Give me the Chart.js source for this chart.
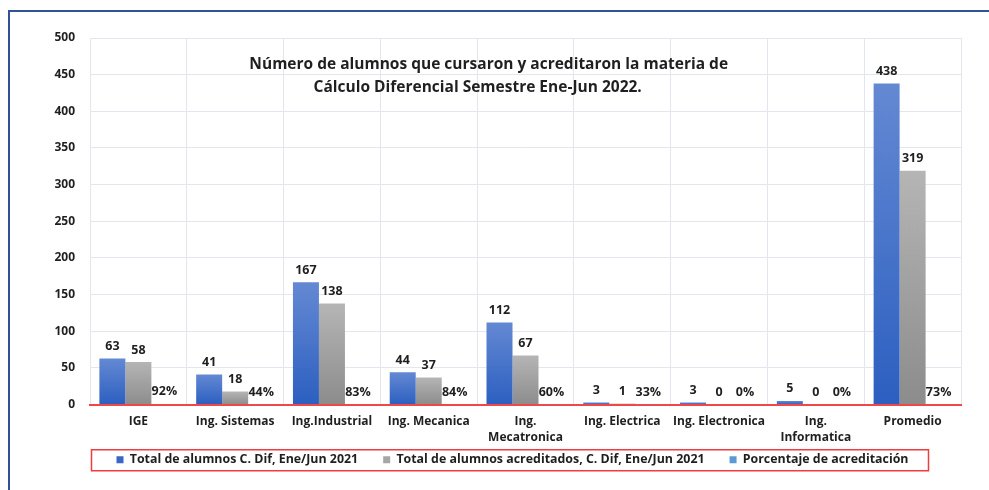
<!DOCTYPE html>
<html>
<head>
<meta charset="utf-8">
<script src="https://cdn.jsdelivr.net/npm/chart.js@4/dist/chart.umd.min.js"></script>
<style>
  html, body { margin: 0; padding: 0; background: #ffffff; }
  #wrap { position: relative; width: 989px; height: 490px; overflow: hidden; }
  #frame { position: absolute; left: 8px; top: 10px; right: -10px; bottom: -10px;
           border-left: 2px solid #2F5496; border-top: 2px solid #2F5496; pointer-events: none; }
  canvas { position: absolute; left: 0; top: 0; }
</style>
</head>
<body>
<div id="wrap">
  <canvas id="c" width="989" height="490"></canvas>
  <div id="frame"></div>
</div>
<script>
// ---- data ----
const categories = ["IGE", "Ing. Sistemas", "Ing.Industrial", "Ing. Mecanica", ["Ing.", "Mecatronica"],
                    "Ing. Electrica", "Ing. Electronica", ["Ing.", "Informatica"], "Promedio"];
const totalAlumnos = [63, 41, 167, 44, 112, 3, 3, 5, 438];
const totalAcreditados = [58, 18, 138, 37, 67, 1, 0, 0, 319];
const porcentaje = [0.92, 0.44, 0.83, 0.84, 0.60, 0.33, 0, 0, 0.73];
const seriesNames = ["Total de alumnos C. Dif, Ene/Jun 2021",
                     "Total de alumnos acreditados, C. Dif, Ene/Jun 2021",
                     "Porcentaje de acreditación"];
const yTicks = [0, 50, 100, 150, 200, 250, 300, 350, 400, 450, 500];
const titleLines = ["Número de alumnos que cursaron y acreditaron la materia de",
                    "Cálculo Diferencial Semestre Ene-Jun 2022."];

// ---- styles ----
const FONT = "'Open Sans', Lato, sans-serif";
const TEXT = "#1f1f1f";
const legendColors = ["#3A66C4", "#A6A6A6", "#5B9BD5"];
const LEGEND_PAD = 25;
const LEGEND_FONT = 12.4;

function gradient(topColor, bottomColor) {
  return function (ctx) {
    const ch = ctx.chart;
    const ys = ch.scales && ch.scales.y;
    if (ctx.type !== 'data' || !ys || !isFinite(ys.top)) return bottomColor;
    const top = ys.getPixelForValue(ctx.raw);
    const bottom = ys.getPixelForValue(0);
    if (!isFinite(top) || !isFinite(bottom) || bottom - top < 1) return bottomColor;
    const g = ch.ctx.createLinearGradient(0, top, 0, bottom);
    g.addColorStop(0, topColor);
    g.addColorStop(1, bottomColor);
    return g;
  };
}

const titlePlugin = {
  id: 'innerTitle',
  afterDraw(chart) {
    const a = chart.chartArea, c = chart.ctx;
    c.save();
    c.font = "bold 15.5px " + FONT;
    c.fillStyle = TEXT;
    c.textAlign = 'center';
    c.textBaseline = 'middle';
    const cx = a.left + (a.right - a.left) * 0.452;
    c.fillText(titleLines[0], cx + 5, a.top + 27);
    c.fillText(titleLines[1], cx - 6, a.top + 50);
    c.restore();
  }
};

const labelPlugin = {
  id: 'valueLabels',
  afterDatasetsDraw(chart) {
    const c = chart.ctx;
    c.save();
    c.font = "bold 12.5px " + FONT;
    c.fillStyle = TEXT;
    c.textAlign = 'center';
    c.textBaseline = 'middle';
    chart.data.datasets.forEach((ds, di) => {
      const meta = chart.getDatasetMeta(di);
      meta.data.forEach((bar, i) => {
        const v = ds.data[i];
        const txt = di === 2 ? Math.round(v * 100) + '%' : String(v);
        c.fillText(txt, bar.x, bar.y - 12);
      });
    });
    c.restore();
  }
};

const legendPlugin = {
  id: 'legendTweak',
  afterLayout(chart) {
    const lg = chart.legend;
    if (!lg) return;
    const shiftX = 512.5 - (lg.left + lg.right) / 2;
    lg.left += shiftX; lg.right += shiftX;
    const itemH = LEGEND_FONT * 1.2;
    const shiftY = 461 - (lg.top + LEGEND_PAD + itemH / 2);
    lg.top += shiftY; lg.bottom += shiftY;
  },
  afterDraw(chart) {
    const lg = chart.legend;
    if (!lg || !lg.legendHitBoxes || !lg.legendHitBoxes.length) return;
    const hb = lg.legendHitBoxes;
    const first = hb[0], last = hb[hb.length - 1];
    const cy = first.top + first.height / 2;
    const c = chart.ctx;
    c.save();
    c.strokeStyle = '#F03C3C';
    c.lineWidth = 1.5;
    c.strokeRect(first.left - 25, cy - 10, (last.left + last.width + 20) - (first.left - 25), 21);
    c.restore();
  }
};

new Chart(document.getElementById('c'), {
  type: 'bar',
  data: {
    labels: categories,
    datasets: [
      { label: seriesNames[0], data: totalAlumnos, backgroundColor: gradient('#6489D3', '#2C5FC0') },
      { label: seriesNames[1], data: totalAcreditados, backgroundColor: gradient('#B5B5B5', '#8C8C8C') },
      { label: seriesNames[2], data: porcentaje, backgroundColor: '#5B9BD5' }
    ]
  },
  options: {
    responsive: false,
    animation: false,
    events: [],
    categoryPercentage: 0.806,
    barPercentage: 1.0,
    layout: { padding: { top: 38, right: 28, bottom: -4, left: 0 } },
    plugins: {
      tooltip: { enabled: false },
      title: { display: false },
      legend: {
        position: 'bottom',
        labels: {
          font: { family: FONT, size: LEGEND_FONT, weight: 'bold', lineHeight: 1.2 },
          color: TEXT,
          boxWidth: 7,
          boxHeight: 7,
          padding: LEGEND_PAD,
          generateLabels(chart) {
            const items = Chart.defaults.plugins.legend.labels.generateLabels(chart);
            items.forEach((it, i) => { it.fillStyle = legendColors[i]; it.strokeStyle = legendColors[i]; it.lineWidth = 0; });
            return items;
          }
        }
      }
    },
    scales: {
      x: {
        grid: { color: '#E4E6EE', lineWidth: 1, drawTicks: false, offset: true },
        border: { color: '#F04848', width: 2 },
        ticks: { font: { family: FONT, size: 12, weight: 'bold', lineHeight: 1.35 }, color: TEXT, padding: 9, maxRotation: 0, autoSkip: false },
        afterFit(s) { s.height = 42; }
      },
      y: {
        min: 0, max: 500,
        afterBuildTicks(s) { s.ticks = yTicks.map(v => ({ value: v })); },
        grid: { color: '#E4E6EE', lineWidth: 1, drawTicks: false },
        border: { display: false },
        ticks: { font: { family: FONT, size: 12, weight: 'bold' }, color: TEXT, padding: 15 },
        afterFit(s) { s.width = 90; }
      }
    }
  },
  plugins: [titlePlugin, labelPlugin, legendPlugin]
});
</script>
</body>
</html>
